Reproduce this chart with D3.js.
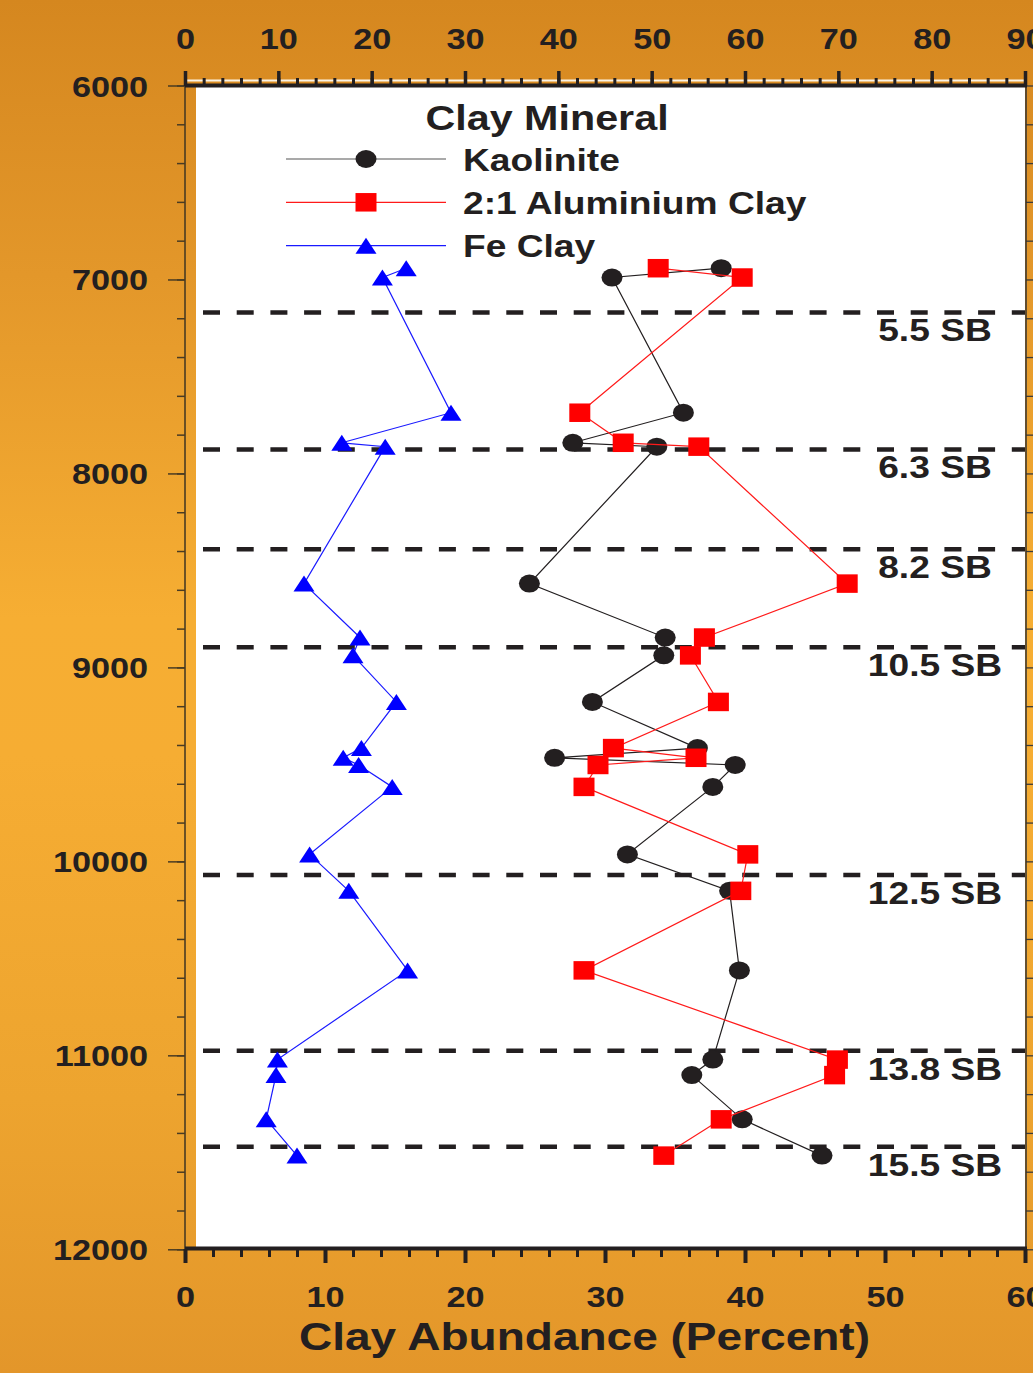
<!DOCTYPE html>
<html>
<head>
<meta charset="utf-8">
<script src="https://cdn.jsdelivr.net/npm/d3@7"></script>
<style>
  html, body { margin: 0; padding: 0; background: #e9a02c; }
  svg { display: block; }
  text { font-family: "Liberation Sans", Arial, Helvetica, sans-serif; font-weight: bold; fill: #231f20; }
</style>
</head>
<body>
<svg id="chart" width="1033" height="1373"></svg>
<script>
// Sample depths (ft) shared by the three clay series
const depths = [6942, 6990, 7687, 7842, 7862, 8568, 8846, 8938, 9178, 9416,
                9466, 9503, 9616, 9964, 10152, 10562, 11022, 11102, 11330, 11517];
// Clay abundance, percent
const kaolinite     = [38.3, 30.5, 35.6, 27.7, 33.7, 24.6, 34.3, 34.2, 29.1, 36.6,
                       26.4, 39.3, 37.7, 31.6, 38.9, 39.6, 37.7, 36.2, 39.8, 45.5];
const aluminiumClay = [33.8, 39.8, 28.2, 31.3, 36.7, 47.3, 37.1, 36.1, 38.1, 30.6,
                       36.5, 29.5, 28.5, 40.2, 39.7, 28.5, 46.6, 46.4, 38.3, 34.2];
const feClay        = [15.8, 14.1, 19.0, 11.2, 14.3, 8.5, 12.5, 12.0, 15.1, 12.6,
                       11.3, 12.4, 14.8, 8.9, 11.7, 15.9, 6.6, 6.5, 5.8, 8.0];
const seriesNames = ["Kaolinite", "2:1 Aluminium Clay", "Fe Clay"];

// Sequence boundaries
const sbDepths = [7170, 7876, 8391, 8896, 10070, 10976, 11471];
const sbLabels = ["5.5 SB", "6.3 SB", "8.2 SB", "10.5 SB", "12.5 SB", "13.8 SB", "15.5 SB"];

// Tick labels
const bottomTicks = [0, 10, 20, 30, 40, 50, 60];
const topTicks = [0, 10, 20, 30, 40, 50, 60, 70, 80, 90];
const depthTicks = [6000, 7000, 8000, 9000, 10000, 11000, 12000];

const SX = 1.18;           // horizontal stretch of the artwork
const INK = "#231f20";

const svg = d3.select("#chart");

// background gradient
const defs = svg.append("defs");
const grad = defs.append("linearGradient").attr("id", "bg")
  .attr("x1", 0).attr("y1", 0).attr("x2", 0).attr("y2", 1);
[[0, "#d5871f"], [0.2, "#e3972a"], [0.45, "#f6ae33"], [0.55, "#f6ad33"], [0.8, "#eda42f"], [1, "#e3962a"]]
  .forEach(([o, c]) => grad.append("stop").attr("offset", o).attr("stop-color", c));
svg.append("rect").attr("width", 1033).attr("height", 1373).attr("fill", "url(#bg)");

const x = d3.scaleLinear().domain([0, 60]).range([185, 1025]);
const xTop = d3.scaleLinear().domain([0, 90]).range([185, 1025]);
const y = d3.scaleLinear().domain([6000, 12000]).range([85.5, 1249.3]);

// plot area
svg.append("rect").attr("x", 196).attr("y", 87).attr("width", 829).attr("height", 1160).attr("fill", "#ffffff");

// ---- axes ----
function styleTicks(g, color, width) {
  g.select(".domain").remove();
  g.selectAll(".tick line").attr("stroke", color).attr("stroke-width", width);
}

// left depth axis
const leftMinor = svg.append("g").attr("transform", "translate(185,0)")
  .call(d3.axisLeft(y).tickValues(d3.range(6000, 12001, 200)).tickSize(8).tickFormat(""));
styleTicks(leftMinor, "#4a3b22", 1.5);
const leftMajor = svg.append("g").attr("transform", "translate(185,0)")
  .call(d3.axisLeft(y).tickValues(depthTicks).tickSize(17).tickFormat(d3.format("d")));
styleTicks(leftMajor, "#4a3b22", 1.5);
leftMajor.selectAll("text")
  .attr("x", -37 / SX).attr("dy", null).attr("y", 10.5)
  .attr("transform", `scale(${SX},1)`).attr("font-size", 29).attr("fill", INK);
svg.append("line").attr("x1", 185).attr("x2", 185).attr("y1", 85).attr("y2", 1250)
  .attr("stroke", "#4a3b22").attr("stroke-width", 1.6);

// right axis (ticks only)
const right = svg.append("g").attr("transform", "translate(1026,0)")
  .call(d3.axisRight(y).tickValues(d3.range(6000, 12001, 200)).tickSize(9).tickFormat(""));
styleTicks(right, "#3a3a3a", 1.3);
svg.append("line").attr("x1", 1026).attr("x2", 1026).attr("y1", 85).attr("y2", 1250)
  .attr("stroke", "#333333").attr("stroke-width", 1.5);

// top axis
svg.append("line").attr("x1", 185).attr("x2", 1025).attr("y1", 80.5).attr("y2", 80.5)
  .attr("stroke", "#fbf3e4").attr("stroke-width", 2);
const topMinor = svg.append("g").attr("transform", "translate(0,86)")
  .call(d3.axisTop(xTop).tickValues(d3.range(0, 91, 2)).tickSize(8).tickFormat(""));
styleTicks(topMinor, INK, 3);
const topMajor = svg.append("g").attr("transform", "translate(0,86)")
  .call(d3.axisTop(xTop).tickValues(topTicks).tickSize(15).tickFormat(d3.format("d")));
styleTicks(topMajor, INK, 3.5);
topMajor.selectAll("text")
  .attr("x", 0).attr("y", -36.7).attr("dy", null)
  .attr("transform", `scale(${SX},1)`).attr("font-size", 29).attr("fill", INK);

// bottom axis
const botMinor = svg.append("g").attr("transform", "translate(0,1249)")
  .call(d3.axisBottom(x).tickValues(d3.range(0, 61, 2)).tickSize(8).tickFormat(""));
styleTicks(botMinor, INK, 3);
const botMajor = svg.append("g").attr("transform", "translate(0,1249)")
  .call(d3.axisBottom(x).tickValues(bottomTicks).tickSize(14).tickFormat(d3.format("d")));
styleTicks(botMajor, INK, 4);
botMajor.selectAll("text")
  .attr("x", 0).attr("y", 57.7).attr("dy", null)
  .attr("transform", `scale(${SX},1)`).attr("font-size", 29).attr("fill", INK);

// frame lines top and bottom
svg.append("line").attr("x1", 185).attr("x2", 1027).attr("y1", 85.5).attr("y2", 85.5)
  .attr("stroke", INK).attr("stroke-width", 4);
svg.append("line").attr("x1", 185).attr("x2", 1027).attr("y1", 1248.5).attr("y2", 1248.5)
  .attr("stroke", INK).attr("stroke-width", 4);

// axis title
svg.append("text")
  .attr("transform", `translate(584.5,1350) scale(${SX},1)`)
  .attr("text-anchor", "middle").attr("font-size", 39)
  .text("Clay Abundance (Percent)");

// ---- sequence boundaries ----
const sb = svg.append("g");
sb.selectAll("line").data(sbDepths).join("line")
  .attr("x1", 203).attr("x2", 1025)
  .attr("y1", d => y(d)).attr("y2", d => y(d))
  .attr("stroke", INK).attr("stroke-width", 4.5)
  .attr("stroke-dasharray", "17,16.7");
sb.selectAll("text").data(sbLabels).join("text")
  .attr("transform", (d, i) => `translate(935,${y(sbDepths[i]) + 29}) scale(${SX},1)`)
  .attr("text-anchor", "middle").attr("font-size", 31.5)
  .text(d => d);

// ---- series ----
const seriesData = [kaolinite, aluminiumClay, feClay];
const seriesColor = [INK, "#ff0000", "#0000ff"];
const lineColor = ["#231f20", "#ff1a1a", "#1a1aff"];

const symbols = {
  circle: g => g.append("ellipse").attr("rx", 10.5).attr("ry", 9),
  square: g => g.append("rect").attr("x", -10.5).attr("y", -9.25).attr("width", 21).attr("height", 18.5),
  triangle: g => g.append("path").attr("d", "M0,-8L10.5,8L-10.5,8Z")
};
const symbolKeys = ["circle", "square", "triangle"];

const line = d3.line().x(d => x(d.v)).y(d => y(d.depth));

seriesData.forEach((vals, s) => {
  const pts = depths.map((depth, i) => ({ depth, v: vals[i] }));
  const g = svg.append("g");
  g.append("path").datum(pts).attr("d", line)
    .attr("fill", "none").attr("stroke", lineColor[s]).attr("stroke-width", 1.2);
  pts.forEach(p => {
    const m = g.append("g").attr("transform", `translate(${x(p.v)},${y(p.depth)})`);
    symbols[symbolKeys[s]](m).attr("fill", seriesColor[s]);
  });
});

// ---- legend ----
const legend = svg.append("g");
legend.append("text")
  .attr("transform", `translate(547,130) scale(${SX},1)`)
  .attr("text-anchor", "middle").attr("font-size", 35)
  .text("Clay Mineral");
const legendY = [159, 202.3, 245.7];
seriesNames.forEach((name, s) => {
  legend.append("line").attr("x1", 286).attr("x2", 446)
    .attr("y1", legendY[s]).attr("y2", legendY[s])
    .attr("stroke", s === 0 ? "#555555" : lineColor[s]).attr("stroke-width", 1.2);
  const m = legend.append("g").attr("transform", `translate(366,${legendY[s]})`);
  symbols[symbolKeys[s]](m).attr("fill", seriesColor[s]);
  legend.append("text")
    .attr("transform", `translate(463,${legendY[s] + 11.5}) scale(${SX},1)`)
    .attr("font-size", 31.5)
    .text(name);
});
</script>
</body>
</html>
